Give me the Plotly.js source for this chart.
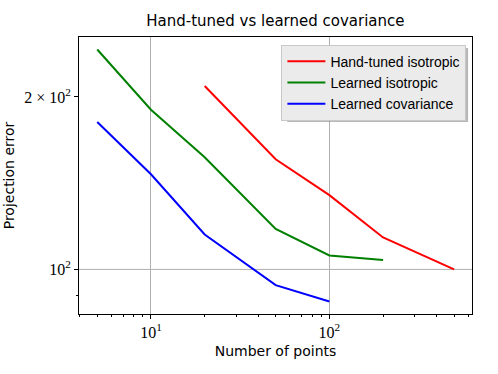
<!DOCTYPE html>
<html>
<head>
<meta charset="utf-8">
<script src="https://cdn.plot.ly/plotly-3.0.1.min.js"></script>
<style>
  html, body { margin: 0; padding: 0; background: #fff; }
  #chart { width: 498px; height: 374px; }
</style>
</head>
<body>
<div id="chart"></div>
<script>
// Valeurs (axes log-log)
const handTunedX = [20, 50, 100, 200, 500];
const handTunedIso = [209, 155.7, 134.8, 113.7, 100];
const learnedIsoX = [5, 10, 20, 50, 100, 200];
const learnedIso = [242, 190, 157, 117.7, 105.8, 103.9];
const learnedCovX = [5, 10, 20, 50, 100];
const learnedCov = [180.9, 146.6, 115.1, 93.9, 87.9];

const xTickVals = [10, 100];
const xTickText = ['10<sup>1</sup>', '10<sup>2</sup>'];
const yTickVals = [100, 200];
const yTickText = ['10<sup>2</sup>', '2 × 10<sup>2</sup>'];
const xMinorVals = [4, 5, 6, 7, 8, 9, 20, 30, 40, 50, 60, 70, 80, 90, 200, 300, 400, 500, 600];
const yMinorVals = [90, 200];

const serif = '"Liberation Serif", "DejaVu Serif", serif';
const sans = '"DejaVu Sans", "Liberation Sans", sans-serif';

const traces = [
    { x: handTunedX, y: handTunedIso, name: 'Hand-tuned isotropic', color: '#ff0000' },
    { x: learnedIsoX, y: learnedIso, name: 'Learned isotropic', color: '#008000' },
    { x: learnedCovX, y: learnedCov, name: 'Learned covariance', color: '#0000ff' }
].map(s => ({
    x: s.x, y: s.y, name: s.name,
    type: 'scatter', mode: 'lines',
    line: { color: s.color, width: 2 }
}));

const layout = {
    width: 498, height: 374,
    margin: { l: 79, r: 26, t: 37, b: 60 },
    paper_bgcolor: '#ffffff',
    plot_bgcolor: '#ffffff',
    showlegend: true,
    title: {
        text: 'Hand-tuned vs learned covariance',
        font: { family: sans, size: 15, color: '#000' },
        x: 0.553, xanchor: 'center', y: 0.945, yanchor: 'middle'
    },
    xaxis: {
        type: 'log',
        range: [Math.log10(3.95), Math.log10(630)],
        tickmode: 'array', tickvals: xTickVals, ticktext: xTickText,
        ticks: 'outside', ticklen: 4, tickcolor: '#000',
        tickfont: { family: serif, size: 16, color: '#000' },
        showline: true, linecolor: '#000', linewidth: 1, mirror: true,
        showgrid: true, gridcolor: '#b0b0b0', gridwidth: 1,
        zeroline: false,
        minor: { tickmode: 'array', tickvals: xMinorVals, ticks: 'outside', ticklen: 2, tickcolor: '#000', showgrid: false },
        title: { text: 'Number of points', font: { family: sans, size: 14, color: '#000' }, standoff: 5 }
    },
    yaxis: {
        type: 'log',
        range: [Math.log10(83.6), Math.log10(254.5)],
        tickmode: 'array', tickvals: yTickVals, ticktext: yTickText,
        ticks: 'outside', ticklen: 4, tickcolor: '#000',
        tickfont: { family: serif, size: 16, color: '#000' },
        showline: true, linecolor: '#000', linewidth: 1, mirror: true,
        showgrid: false,
        zeroline: false,
        minor: { tickmode: 'array', tickvals: yMinorVals, ticks: 'outside', ticklen: 2, tickcolor: '#000', showgrid: false },
        title: { text: 'Projection error', font: { family: sans, size: 14, color: '#000' }, standoff: 6 }
    },
    shapes: [
        // grille horizontale uniquement a 10^2
        { type: 'line', xref: 'paper', x0: 0, x1: 1, yref: 'y', y0: 100, y1: 100, line: { color: '#b0b0b0', width: 1 }, layer: 'below' },
        // ombre de la legende
        { type: 'rect', xref: 'paper', yref: 'paper', x0: 0.53, x1: 0.99, y0: 0.693, y1: 0.96, fillcolor: '#888', line: { width: 0 }, layer: 'above', opacity: 0.6 }
    ],
    legend: {
        x: 0.515, xanchor: 'left', y: 0.972, yanchor: 'top',
        bgcolor: '#ebebeb', bordercolor: '#c8c8c8', borderwidth: 1,
        font: { family: '"Liberation Sans", Arial, sans-serif', size: 14, color: '#000' },
        tracegroupgap: 0, itemwidth: 38
    }
};

Plotly.newPlot('chart', traces, layout, { displayModeBar: false, staticPlot: true });
</script>
</body>
</html>
